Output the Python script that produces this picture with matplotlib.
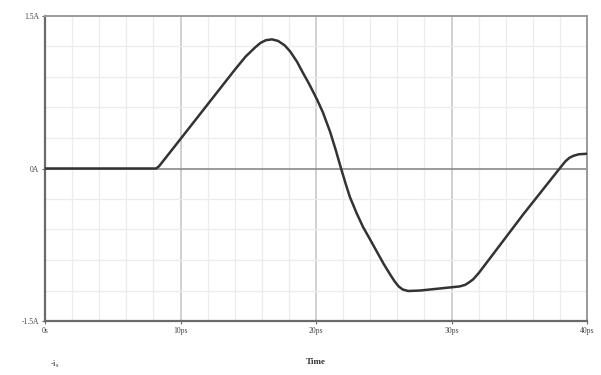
import numpy as np
import matplotlib.pyplot as plt

# Values (time in ps, current in A)
time_ps = [0, 8.2, 8.4, 8.7, 10, 12, 14, 14.8, 15.5, 15.9, 16.3, 16.75, 17.2, 17.7,
           18.1, 18.6, 19.0, 19.5, 20.07, 20.5, 21.03, 21.45, 21.85, 22.2, 22.5,
           23.0, 23.47, 24.0, 24.5, 25.0, 25.46, 25.8, 26.1, 26.4, 26.8, 27.7,
           29.15, 30.6, 31.0, 31.3, 31.6, 32.0, 32.8, 35.3, 37.8, 38.1, 38.4,
           38.7, 39.0, 39.4, 40]
current_a = [0, 0, 0.02, 0.07, 0.29, 0.63, 0.97, 1.10, 1.19, 1.235, 1.262, 1.27, 1.255, 1.21,
             1.15, 1.05, 0.95, 0.83, 0.68, 0.555, 0.365, 0.185, 0.0, -0.155, -0.28,
             -0.44, -0.575, -0.70, -0.82, -0.94, -1.04, -1.11, -1.16, -1.19, -1.205, -1.20,
             -1.18, -1.16, -1.145, -1.12, -1.09, -1.03, -0.89, -0.45, -0.03, 0.02, 0.07,
             0.105, 0.125, 0.14, 0.145]

x_ticks = [0, 10, 20, 30, 40]
x_labels = ['0s', '10ps', '20ps', '30ps', '40ps']
y_ticks = [-1.5, 0, 1.5]
y_labels = ['-1.5A', '0A', '1.5A']

plt.rcParams['font.family'] = ['Liberation Serif', 'DejaVu Serif']

fig = plt.figure(figsize=(6.01, 3.75), dpi=100)
ax = fig.add_axes([45 / 601, 1 - 321 / 375, 542 / 601, 305 / 375])

ax.set_xlim(0, 40)
ax.set_ylim(-1.5, 1.5)

# grid: minor every 2ps / 0.3A, darker at each 10ps, zero line darkest
for t in np.arange(2, 40, 2):
    major = (t % 10 == 0)
    ax.axvline(t, color='#c8c8c8' if major else '#ececec',
               lw=1.2 if major else 0.9, zorder=0)
for v in np.arange(-1.2, 1.21, 0.3):
    if abs(v) < 1e-9:
        continue
    ax.axhline(v, color='#ececec', lw=0.9, zorder=0)
ax.axhline(0, color='#8a8a8a', lw=1.2, zorder=1)

ax.plot(time_ps, current_a, color='#333333', lw=1.8, zorder=3,
        solid_joinstyle='round', solid_capstyle='round')

for side in ['left', 'bottom']:
    ax.spines[side].set_color('#6a6a6a')
    ax.spines[side].set_linewidth(1.6)
for side in ['top', 'right']:
    ax.spines[side].set_color('#9a9a9a')
    ax.spines[side].set_linewidth(1.4)

ax.set_xticks(x_ticks)
ax.set_xticklabels(x_labels)
ax.set_yticks(y_ticks)
ax.set_yticklabels(y_labels)
ax.tick_params(axis='both', length=2, width=0.8, color='#6a6a6a',
               labelsize=5.5, labelcolor='#444444', pad=2)

fig.text(316 / 601, 1 - 362 / 375, 'Time', ha='center', va='center',
         fontsize=6.5, color='#333333', fontweight='bold')
fig.text(55 / 601, 1 - 364 / 375, r'-i$_\mathregular{s}$', ha='center', va='center',
         fontsize=6.5, color='#333333')

fig.savefig('out.png', dpi=100, facecolor='white')
